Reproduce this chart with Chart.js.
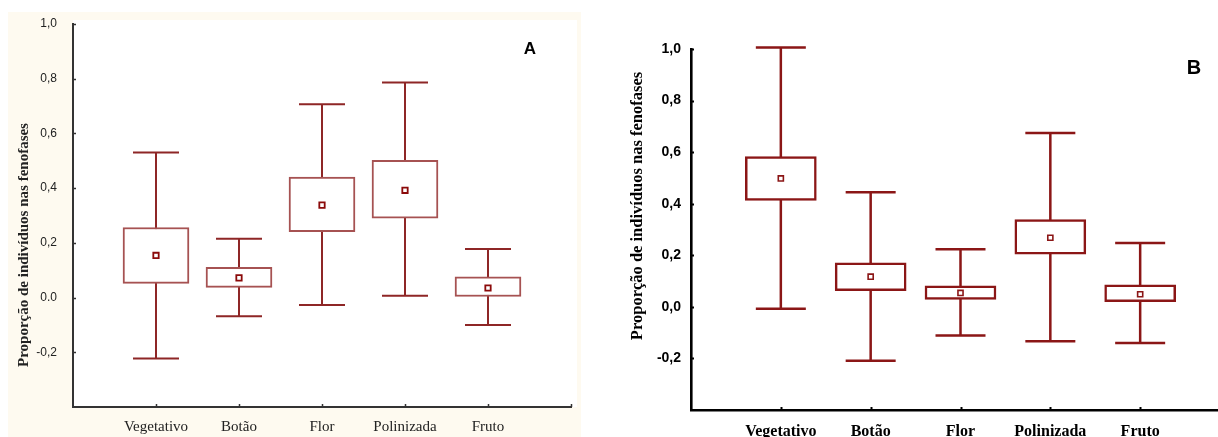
<!DOCTYPE html>
<html>
<head>
<meta charset="utf-8">
<script src="https://cdn.jsdelivr.net/npm/chart.js@4.4.1/dist/chart.umd.min.js"></script>
<style>
  body { margin: 0; background: #fff; overflow: hidden; }
  #wrap { position: relative; width: 1218px; height: 437px; overflow: hidden; }
  canvas { position: absolute; top: 0; }
</style>
</head>
<body>
<div id="wrap">
  <canvas id="chartA" width="600" height="437" style="left:0"></canvas>
  <canvas id="chartB" width="642" height="437" style="left:600px"></canvas>
</div>
<script>
// categorias (fenofases)
const categories = ["Vegetativo", "Botão", "Flor", "Polinizada", "Fruto"];

// valores das marcas do eixo y
const yTickValues = [-0.2, 0, 0.2, 0.4, 0.6, 0.8, 1.0];
const yTickLabelsA = ["-0,2", "0.0", "0,2", "0,4", "0,6", "0,8", "1,0"];
const yTickLabelsB = ["-0,2", "0,0", "0,2", "0,4", "0,6", "0,8", "1,0"];

// painel A
const minA = [-0.223, -0.068, -0.027, 0.007, -0.1];
const q1A = [0.052, 0.037, 0.241, 0.29, 0.004];
const meanA = [0.154, 0.072, 0.338, 0.392, 0.035];
const q3A = [0.256, 0.111, 0.44, 0.502, 0.076];
const maxA = [0.53, 0.215, 0.707, 0.786, 0.178];

// painel B
const minB = [-0.007, -0.209, -0.111, -0.133, -0.14];
const q1B = [0.413, 0.063, 0.029, 0.204, 0.02];
const meanB = [0.498, 0.117, 0.054, 0.268, 0.049];
const q3B = [0.583, 0.171, 0.082, 0.338, 0.085];
const maxB = [1.006, 0.444, 0.223, 0.674, 0.248];

const yTitle = "Proporção de indivíduos nas fenofases";

// bigodes (desenhados antes das caixas)
const whiskers = {
  id: "whiskers",
  beforeDatasetsDraw(chart, args, o) {
    const { ctx, scales } = chart;
    ctx.save();
    ctx.strokeStyle = o.color;
    ctx.lineWidth = o.width;
    o.min.forEach((lo, i) => {
      const px = scales.x.getPixelForValue(i + 1);
      const yl = scales.y.getPixelForValue(lo);
      const yh = scales.y.getPixelForValue(o.max[i]);
      ctx.beginPath();
      ctx.moveTo(px, yl);
      ctx.lineTo(px, yh);
      ctx.moveTo(px - o.cap / 2, yl);
      ctx.lineTo(px + o.cap / 2, yl);
      ctx.moveTo(px - o.cap / 2, yh);
      ctx.lineTo(px + o.cap / 2, yh);
      ctx.stroke();
    });
    ctx.restore();
  },
};

// fundo, marcas internas, titulo do eixo e letra do painel
const decor = {
  id: "decor",
  beforeDraw(chart, args, o) {
    const { ctx, chartArea } = chart;
    if (!o.panel) return;
    ctx.save();
    ctx.fillStyle = "#fefaf0";
    ctx.fillRect(8, 12, 573, 425);
    ctx.fillStyle = "#ffffff";
    ctx.fillRect(chartArea.left, chartArea.top - 4, chartArea.right - chartArea.left + 6, chartArea.bottom - chartArea.top + 4);
    ctx.restore();
  },
  afterDraw(chart, args, o) {
    const { ctx, chartArea, scales } = chart;
    ctx.save();
    ctx.strokeStyle = o.axisColor;
    ctx.lineWidth = o.tickWidth;
    ctx.beginPath();
    yTickValues.forEach((v) => {
      const py = Math.round(scales.y.getPixelForValue(v)) + 0.5;
      ctx.moveTo(chartArea.left, py);
      ctx.lineTo(chartArea.left + o.tick, py);
    });
    o.xTicks.forEach((v) => {
      const px = Math.round(scales.x.getPixelForValue(v)) + 0.5;
      ctx.moveTo(px, chartArea.bottom);
      ctx.lineTo(px, chartArea.bottom - o.tick);
    });
    ctx.stroke();

    ctx.fillStyle = o.textColor;
    ctx.font = o.titleFont;
    ctx.textAlign = "center";
    ctx.textBaseline = "middle";
    ctx.translate(o.titleX, o.titleY);
    ctx.rotate(-Math.PI / 2);
    ctx.fillText(yTitle, 0, 0);
    ctx.restore();

    ctx.save();
    ctx.fillStyle = "#000";
    ctx.font = o.letterFont;
    ctx.textAlign = "center";
    ctx.textBaseline = "middle";
    ctx.fillText(o.letter, o.letterX, o.letterY);
    ctx.restore();
  },
};

function buildChart(el, cfg) {
  return new Chart(el, {
    type: "bar",
    data: {
      datasets: [
        {
          type: "bar",
          data: cfg.q1.map((v, i) => ({ x: i + 1, y: [v, cfg.q3[i]] })),
          backgroundColor: "#ffffff",
          borderColor: cfg.boxColor,
          borderWidth: cfg.boxWidth,
          borderSkipped: false,
          barThickness: cfg.boxSize,
          clip: false,
          order: 2,
        },
        {
          type: "line",
          data: cfg.mean.map((v, i) => ({ x: i + 1, y: v })),
          showLine: false,
          pointStyle: "rect",
          pointRadius: cfg.pointRadius,
          pointBackgroundColor: "#ffffff",
          pointBorderColor: cfg.meanColor,
          pointBorderWidth: cfg.pointBorder,
          clip: false,
          order: 1,
        },
      ],
    },
    options: {
      responsive: false,
      animation: false,
      devicePixelRatio: 1,
      layout: { padding: cfg.padding },
      plugins: {
        legend: { display: false },
        tooltip: { enabled: false },
        whiskers: {
          min: cfg.min,
          max: cfg.max,
          color: cfg.whiskerColor,
          width: cfg.boxWidth,
          cap: cfg.cap,
        },
        decor: cfg.decor,
      },
      scales: {
        x: {
          type: "linear",
          offset: false,
          min: 0,
          max: 6,
          grid: { display: false, drawTicks: false },
          border: { display: true, color: cfg.decor.axisColor, width: cfg.axisWidth },
          afterFit: (s) => { s.height = cfg.xHeight; },
          ticks: {
            stepSize: 1,
            autoSkip: false,
            maxRotation: 0,
            padding: cfg.xPad,
            color: cfg.decor.textColor,
            font: cfg.xFont,
            callback: (v) => {
              const k = Math.round(v);
              return Math.abs(v - k) < 1e-6 && k >= 1 && k <= 5 ? categories[k - 1] : "";
            },
          },
        },
        y: {
          min: -0.4,
          max: 1.0,
          grid: { display: false, drawTicks: false },
          border: { display: true, color: cfg.decor.axisColor, width: cfg.axisWidth },
          afterFit: (s) => { s.width = cfg.yWidth; },
          ticks: {
            stepSize: 0.2,
            padding: cfg.yPad,
            color: cfg.decor.textColor,
            font: cfg.yFont,
            callback: (v) => {
              const k = yTickValues.findIndex((t) => Math.abs(t - v) < 1e-6);
              return k >= 0 ? cfg.yLabels[k] : "";
            },
          },
        },
      },
    },
    plugins: [whiskers, decor],
  });
}

// PAINEL A
const chartA = document.querySelector("#chartA");
if (chartA) {
  buildChart(chartA, {
    min: minA, q1: q1A, mean: meanA, q3: q3A, max: maxA,
    yLabels: yTickLabelsA,
    boxColor: "#a65252",
    whiskerColor: "#8e2626",
    meanColor: "#8b0a0a",
    boxWidth: 2,
    boxSize: 66,
    cap: 46,
    pointRadius: 3.8,
    pointBorder: 1.8,
    axisWidth: 2,
    padding: { left: 0, right: 29, top: 24, bottom: 0 },
    xHeight: 30,
    yWidth: 73,
    xPad: 11,
    yPad: 16,
    xFont: { family: "'Liberation Serif', 'Times New Roman', serif", size: 15 },
    yFont: { family: "'Liberation Sans', Arial, sans-serif", size: 12 },
    decor: {
      panel: true,
      axisColor: "#333333",
      textColor: "#222222",
      tick: 3,
      tickWidth: 1.5,
      xTicks: [1, 2, 3, 4, 5, 6],
      titleFont: "bold 15px 'Liberation Serif', 'Times New Roman', serif",
      titleX: 24,
      titleY: 245,
      letter: "A",
      letterFont: "bold 17px 'Liberation Sans', Arial, sans-serif",
      letterX: 530,
      letterY: 49,
    },
  });
}
// FIM PAINEL A

// PAINEL B
const chartB = document.querySelector("#chartB");
if (chartB) {
  buildChart(chartB, {
    min: minB, q1: q1B, mean: meanB, q3: q3B, max: maxB,
    yLabels: yTickLabelsB,
    boxColor: "#8b1616",
    whiskerColor: "#8b1616",
    meanColor: "#8b1616",
    boxWidth: 2.5,
    boxSize: 71,
    cap: 50,
    pointRadius: 3.6,
    pointBorder: 1.6,
    axisWidth: 2.6,
    padding: { left: 0, right: 1.5, top: 49, bottom: 0 },
    xHeight: 27,
    yWidth: 91,
    xPad: 12,
    yPad: 10,
    xFont: { family: "'Liberation Serif', 'Times New Roman', serif", size: 16, weight: "bold" },
    yFont: { family: "'Liberation Sans', Arial, sans-serif", size: 14, weight: "bold" },
    decor: {
      panel: false,
      axisColor: "#000000",
      textColor: "#000000",
      tick: 3,
      tickWidth: 2,
      xTicks: [1, 2, 3, 4, 5],
      titleFont: "bold 16.5px 'Liberation Serif', 'Times New Roman', serif",
      titleX: 38,
      titleY: 206,
      letter: "B",
      letterFont: "bold 20px 'Liberation Sans', Arial, sans-serif",
      letterX: 594,
      letterY: 68,
    },
  });
}
// FIM PAINEL B
</script>
</body>
</html>
